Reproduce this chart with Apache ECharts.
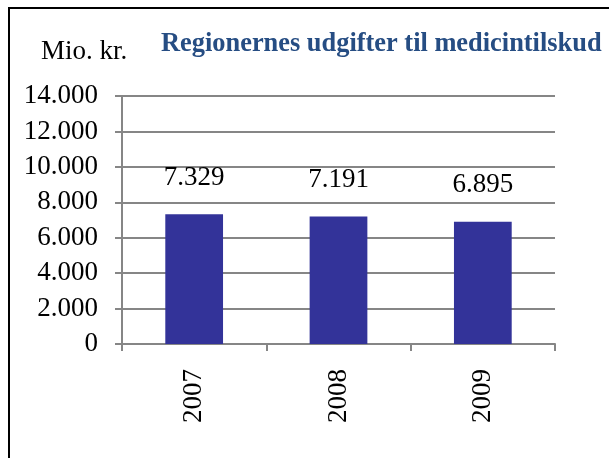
<!DOCTYPE html>
<html>
<head>
<meta charset="utf-8">
<script src="https://cdn.jsdelivr.net/npm/echarts@6/dist/echarts.min.js"></script>
<style>
  html, body { margin: 0; padding: 0; background: #fff; }
  #main { width: 609px; height: 458px; }
</style>
</head>
<body>
<div id="main"></div>
<script>
var years = ['2007', '2008', '2009'];
var udgifter = [7329, 7191, 6895];
var yTicks = [0, 2000, 4000, 6000, 8000, 10000, 12000, 14000];

// tusindtalsseparator med punktum
function dk(v) {
  return String(v).replace(/\B(?=(\d{3})+(?!\d))/g, '.');
}

var chart = echarts.init(document.getElementById('main'));

var option = {
  animation: false,
  backgroundColor: '#fff',
  textStyle: { fontFamily: 'Liberation Serif' },
  title: {
    text: 'Regionernes udgifter til medicintilskud',
    left: 156,
    top: 26,
    textStyle: {
      fontFamily: 'Liberation Serif',
      fontWeight: 'bold',
      fontSize: 26.4,
      color: '#264d83'
    }
  },
  graphic: [
    // ramme (kun venstre og øverste kant synlig)
    { type: 'line', shape: { x1: 9, y1: 8, x2: 9, y2: 458 }, style: { stroke: '#000', lineWidth: 2 } },
    { type: 'line', shape: { x1: 8, y1: 8, x2: 609, y2: 8 }, style: { stroke: '#000', lineWidth: 2 } },
    { type: 'text', left: 14, top: -22, style: { text: '2009.', font: 'bold 27px "Liberation Serif"', fill: '#000' } },
    { type: 'text', left: 41, top: 38, style: { text: 'Mio. kr.', font: '27px "Liberation Serif"', fill: '#000' } }
  ],
  grid: { left: 122, right: 54, top: 96, bottom: 114 },
  xAxis: {
    type: 'category',
    data: years,
    axisLine: { lineStyle: { color: '#868686', width: 2 } },
    axisTick: { show: true, length: 7, lineStyle: { color: '#868686', width: 2 } },
    axisLabel: { rotate: 90, margin: 25, fontSize: 27, color: '#000', fontFamily: 'Liberation Serif' }
  },
  yAxis: {
    type: 'value',
    min: yTicks[0],
    max: yTicks[yTicks.length - 1],
    interval: 2000,
    axisLine: { show: true, lineStyle: { color: '#868686', width: 2 } },
    axisTick: { show: true, length: 7, lineStyle: { color: '#868686', width: 2 } },
    splitLine: { lineStyle: { color: '#868686', width: 2 } },
    axisLabel: {
      margin: 24,
      fontSize: 27,
      color: '#000',
      fontFamily: 'Liberation Serif',
      formatter: function (v) { return dk(v); }
    }
  },
  series: [{
    type: 'bar',
    data: udgifter,
    barWidth: '40%',
    itemStyle: { color: '#333399' },
    label: {
      show: true,
      position: 'top',
      distance: 23,
      fontSize: 27,
      color: '#000',
      fontFamily: 'Liberation Serif',
      formatter: function (p) { return dk(p.value); }
    }
  }]
};

chart.setOption(option);
</script>
</body>
</html>
